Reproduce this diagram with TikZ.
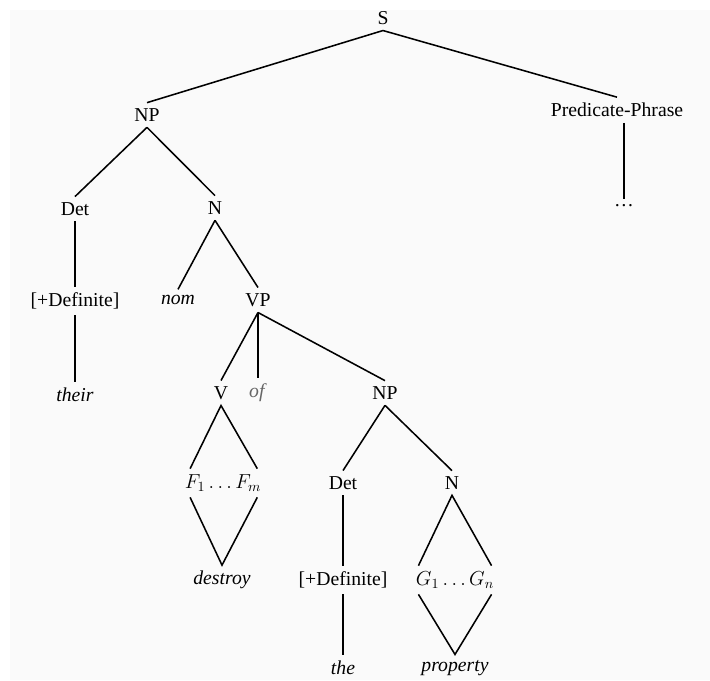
\documentclass[tikz,border=0pt]{standalone}
\usepackage{fontspec}
\setmainfont{Liberation Serif}

\begin{document}
\begin{tikzpicture}[x=0.025cm, y=-0.025cm,
    every node/.style={inner sep=4pt, font=\fontsize{14}{17}\selectfont},
    branch/.style={line width=1.1pt}]

    \useasboundingbox (0,0) rectangle (710,680);
    \fill [black!2] (10,10) rectangle (710,680);

    \node (S) at (383,18) {S};
    \node (NP) at (147,115) {NP};
    \node (PredP) at (617,110) {Predicate-Phrase};
    \node (dots) at (624,206) {\ldots};

    \node (Det) at (75,209) {Det};
    \node (N) at (215,208) {N};
    \node (Def) at (75,301) {[+Definite]};
    \node (their) at (75,395) {\textit{their}};

    \node (nom) at (178,300) {\textit{nom}};
    \node (VP) at (258,300) {VP};
    \node (V) at (221,393) {V};
    \node [text=black!60] (of) at (258,393) {\textit{of}};
    \node (NPb) at (385,393) {NP};

    \node (F) at (223,483) {$F_1\ldots F_m$};
    \node (destroy) at (222,580) {\textit{destroy}};

    \node (Detb) at (343,483) {Det};
    \node (Nb) at (452,483) {N};
    \node (Defb) at (343,580) {[+Definite]};
    \node (G) at (455,580) {$G_1\ldots G_n$};
    \node (the) at (343,668) {\textit{the}};
    \node (property) at (455,668) {\textit{property}};

    \draw [branch] (S.south) -- (NP.north);
    \draw [branch] (S.south) -- (PredP.north);
    \draw [branch] (PredP.south -| dots.north) -- (dots.north);

    \draw [branch] (NP.south) -- (Det.north);
    \draw [branch] (NP.south) -- (N.north);
    \draw [branch] (Det.south) -- (Def.north);
    \draw [branch] (Def.south) -- (their.north);

    \draw [branch] (N.south) -- (nom.north);
    \draw [branch] (N.south) -- (VP.north);
    \draw [branch] (VP.south) -- (V.north);
    \draw [branch] (VP.south) -- (of.north);
    \draw [branch] (VP.south) -- (NPb.north);

    \draw [branch] ([xshift=8pt]F.north west) -- (V.south) -- ([xshift=-7pt]F.north east);
    \draw [branch] ([xshift=8pt]F.south west) -- (destroy.north) -- ([xshift=-7pt]F.south east);

    \draw [branch] (NPb.south) -- (Detb.north);
    \draw [branch] (NPb.south) -- (Nb.north);
    \draw [branch] (Detb.south) -- (Defb.north);
    \draw [branch] (Defb.south) -- (the.north);

    \draw [branch] ([xshift=6pt]G.north west) -- (Nb.south) -- ([xshift=-6pt]G.north east);
    \draw [branch] ([xshift=6pt]G.south west) -- (property.north) -- ([xshift=-6pt]G.south east);

\end{tikzpicture}
\end{document}
